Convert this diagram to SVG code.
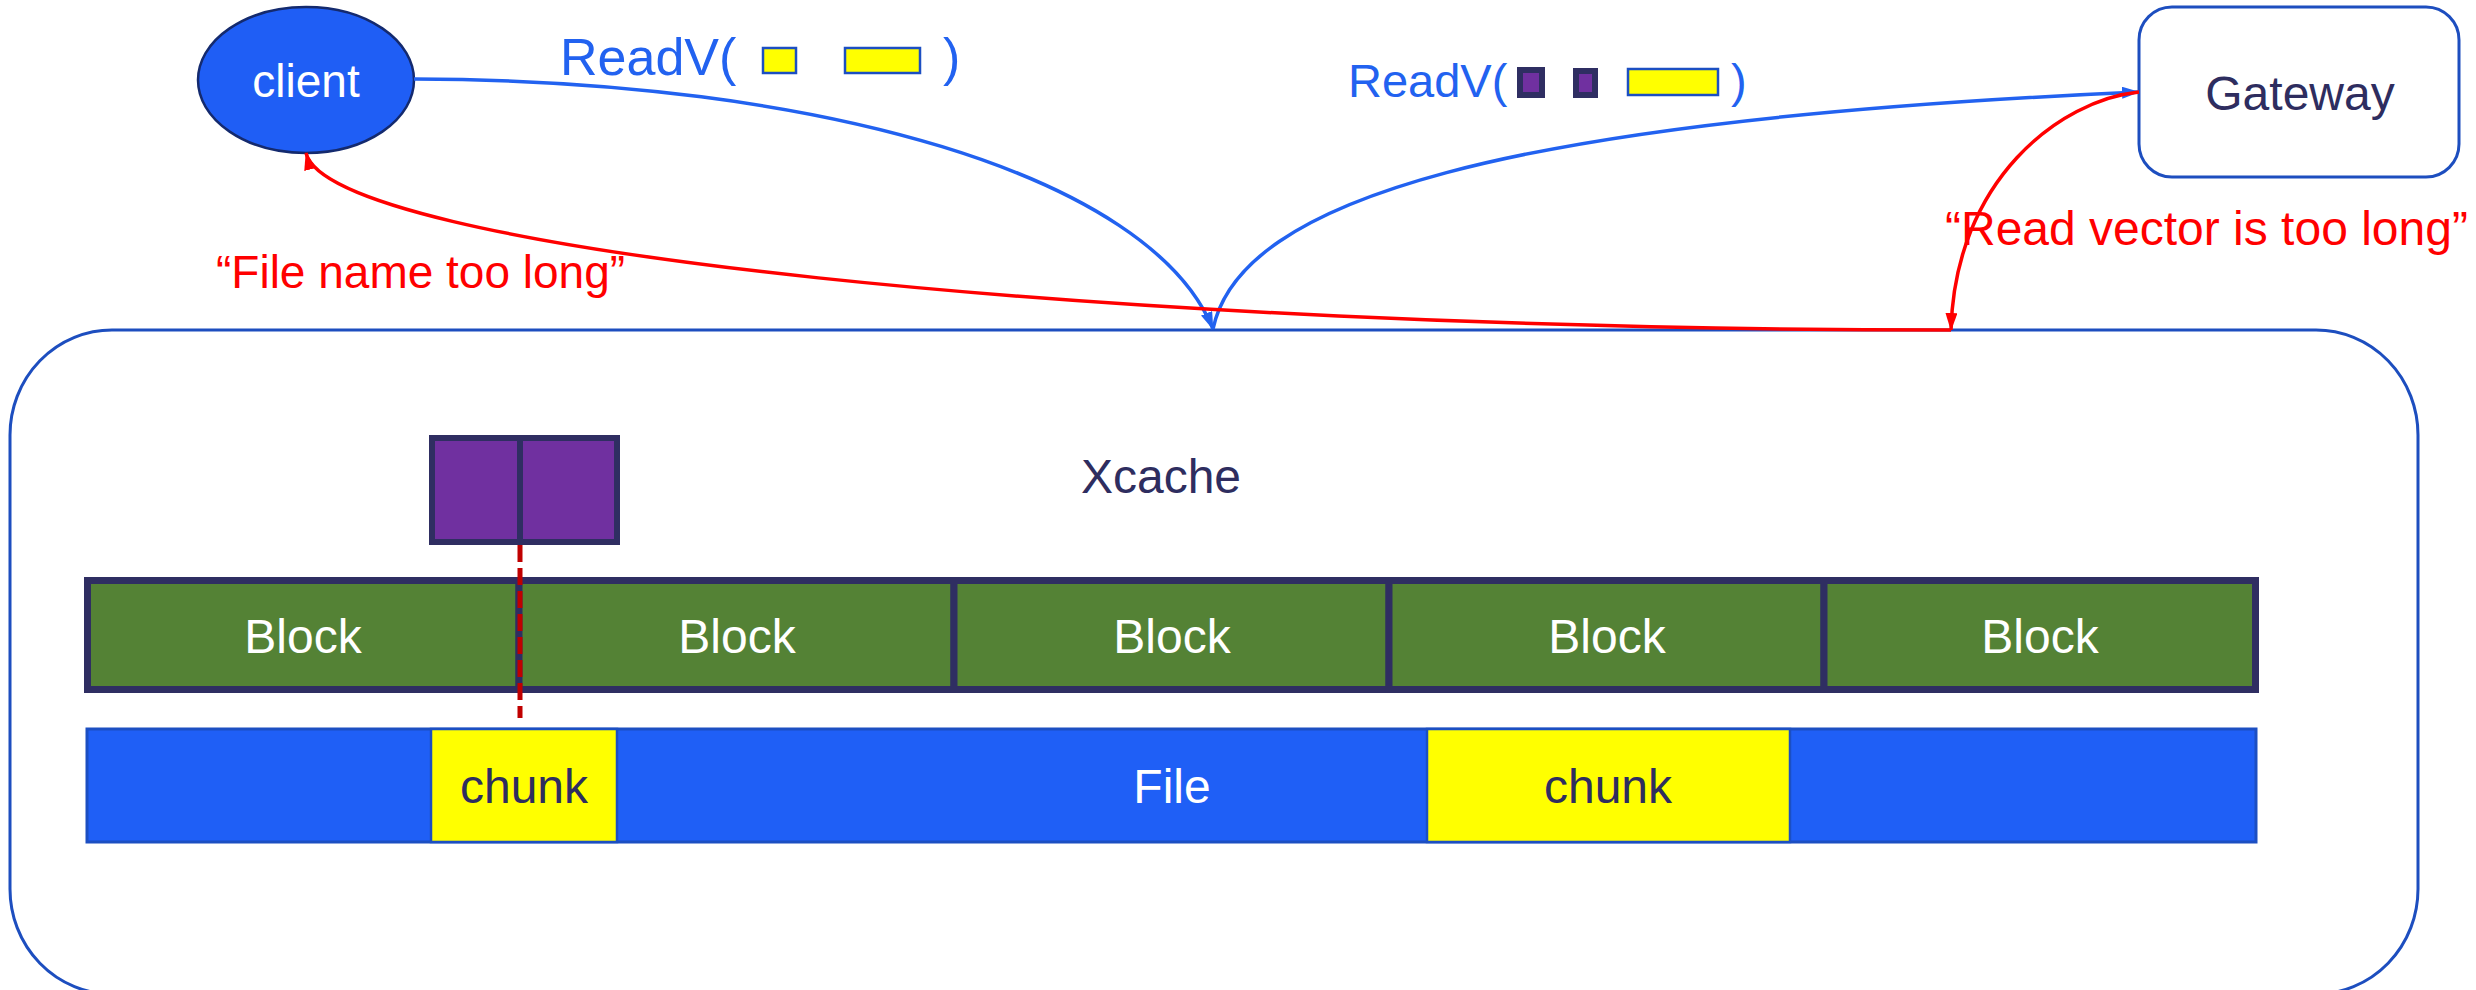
<svg xmlns="http://www.w3.org/2000/svg" width="2476" height="990" viewBox="0 0 2476 990">
<style>
text{font-family:"Liberation Sans",Arial,sans-serif;}
.navy{fill:#2e2d5f;}
.white{fill:#ffffff;}
.blueT{fill:#2262f0;}
.redT{fill:#ff0000;}
.block{fill:#548235;stroke:#2f2e62;stroke-width:7;}
.purple{fill:#7030a0;stroke:#2f2e62;stroke-width:6;}
.yel{fill:#ffff00;stroke:#1c4fc2;stroke-width:2.5;}
.bc{fill:none;stroke:#2262f0;stroke-width:3.5;}
.rc{fill:none;stroke:#ff0000;stroke-width:3.5;}
</style>
<defs>
<marker id="ab" markerUnits="userSpaceOnUse" markerWidth="18" markerHeight="12" refX="17" refY="6" orient="auto"><path d="M0,0 L18,6 L0,12 z" fill="#2262f0"/></marker>
<marker id="ar" markerUnits="userSpaceOnUse" markerWidth="18" markerHeight="12" refX="17" refY="6" orient="auto"><path d="M0,0 L18,6 L0,12 z" fill="#ff0000"/></marker>
</defs>

<g id="xcache">
<rect x="10" y="330" width="2408" height="664" rx="102" ry="105" fill="#ffffff" stroke="#1d4ebf" stroke-width="3"/>
<text x="1161" y="493" font-size="48" text-anchor="middle" class="navy">Xcache</text>
</g>

<g id="blocks">
<g id="block1"><rect class="block" x="87.5" y="580.5" width="431.5" height="109"/><text x="303" y="653" font-size="48" text-anchor="middle" class="white">Block</text></g>
<g id="block2"><rect class="block" x="519" y="580.5" width="435" height="109"/><text x="737" y="653" font-size="48" text-anchor="middle" class="white">Block</text></g>
<g id="block3"><rect class="block" x="954" y="580.5" width="435" height="109"/><text x="1172" y="653" font-size="48" text-anchor="middle" class="white">Block</text></g>
<g id="block4"><rect class="block" x="1389" y="580.5" width="435" height="109"/><text x="1607" y="653" font-size="48" text-anchor="middle" class="white">Block</text></g>
<g id="block5"><rect class="block" x="1824" y="580.5" width="431.5" height="109"/><text x="2040" y="653" font-size="48" text-anchor="middle" class="white">Block</text></g>
</g>

<g id="file">
<rect x="87" y="729" width="2169" height="113" fill="#1f5ff6" stroke="#1c4fc2" stroke-width="3"/>
<text x="1172" y="803" font-size="48" text-anchor="middle" class="white">File</text>
</g>
<g id="chunk1">
<rect class="yel" x="431" y="729" width="186" height="113"/>
<text x="524" y="803" font-size="48" text-anchor="middle" class="navy">chunk</text>
</g>
<g id="chunk2">
<rect class="yel" x="1427" y="729" width="363" height="113"/>
<text x="1608" y="803" font-size="48" text-anchor="middle" class="navy">chunk</text>
</g>

<g id="request-pair">
<rect class="purple" x="432" y="438" width="88" height="104"/>
<rect class="purple" x="520" y="438" width="97" height="104"/>
<line x1="520" y1="545" x2="520" y2="718" stroke="#c00000" stroke-width="5" stroke-dasharray="17 6"/>
</g>

<g id="client">
<ellipse cx="306" cy="80" rx="108" ry="73" fill="#1f5ef5" stroke="#142a6e" stroke-width="2.5"/>
<text x="306" y="97" font-size="46" text-anchor="middle" class="white">client</text>
</g>

<g id="gateway">
<rect x="2139" y="7" width="320" height="170" rx="33" ry="33" fill="#ffffff" stroke="#1d4ebf" stroke-width="3"/>
<text x="2300" y="110" font-size="48" text-anchor="middle" class="navy">Gateway</text>
</g>

<g id="connectors">
<path class="bc" d="M414,79 C820,80 1150,175 1213,329" marker-end="url(#ab)"/>
<path class="bc" d="M1213,329 C1240,200 1500,120 2139,92" marker-end="url(#ab)"/>
<path class="rc" d="M2139,92 C2060,100 1955,180 1951,330" marker-end="url(#ar)"/>
<path class="rc" d="M1951,330 C1100,330 330,250 306,153" marker-end="url(#ar)"/>
</g>

<g id="labels">
<text x="560" y="75" font-size="52" class="blueT">ReadV(</text>
<rect class="yel" x="763" y="48" width="33" height="25"/>
<rect class="yel" x="845" y="48" width="75" height="25"/>
<text x="943" y="75" font-size="52" class="blueT">)</text>

<text x="1348" y="97" font-size="47" class="blueT">ReadV(</text>
<rect class="purple" x="1520" y="70" width="22" height="25"/>
<rect class="purple" x="1576" y="71" width="19" height="24"/>
<rect class="yel" x="1628" y="69" width="90" height="26"/>
<text x="1731" y="97" font-size="47" class="blueT">)</text>

<text x="216" y="288" font-size="46" class="redT">“File name too long”</text>
<text x="1945" y="245" font-size="48" class="redT">“Read vector is too long”</text>
</g>
</svg>
